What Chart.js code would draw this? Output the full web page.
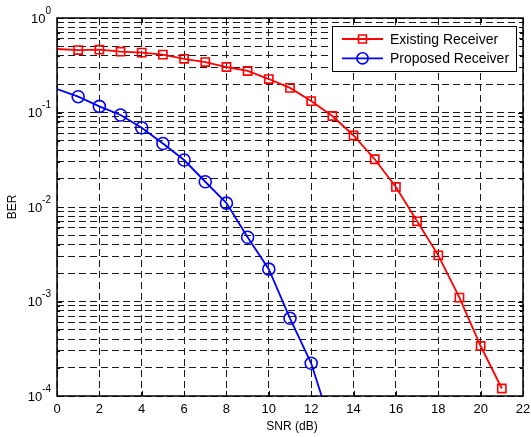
<!DOCTYPE html>
<html><head><meta charset="utf-8">
<script src="https://cdn.jsdelivr.net/npm/chart.js@4.4.0/dist/chart.umd.min.js"></script>
<style>html,body{margin:0;padding:0;background:#fff;} canvas{display:block;}</style>
</head><body>
<canvas id="c" width="531" height="437"></canvas>
<script>
// ---- data ----
const snrExisting = [0,1,2,3,4,5,6,7,8,9,10,11,12,13,14,15,16,17,18,19,20,21];
const berExisting = [0.47,0.458,0.462,0.44,0.43,0.41,0.37,0.342,0.303,0.275,0.226,0.182,0.132,0.0918,0.0571,0.032,0.0163,0.00706,0.00308,0.0011,0.000338,0.00012];
const snrProposed = [0,1,2,3,4,5,6,7,8,9,10,11,12,13];
const berProposed = [0.177,0.147,0.116,0.094,0.069,0.047,0.0314,0.0185,0.011,0.00478,0.0022,0.000664,0.000222,0.000044];
const seriesNames = ['Existing Receiver','Proposed Receiver'];
const xTickValues = [0,2,4,6,8,10,12,14,16,18,20,22];
const xTickLabels = ['0','2','4','6','8','10','12','14','16','18','20','22'];
const yMajorExponents = [0,-1,-2,-3,-4];
const yMinorMultipliers = [2,3,4,5,6,7,8,9];
const xTitle = 'SNR (dB)';
const yTitle = 'BER';

// tick values for log axis (major decades + minor multiples)
const yTickValues = [];
yMajorExponents.forEach(e => {
  yTickValues.push({v: Math.pow(10, e), major: true, e: e});
  if (e < 0) yMinorMultipliers.forEach(m => yTickValues.push({v: m * Math.pow(10, e), major: false}));
});

const FONT = '"Liberation Sans", Arial, Helvetica, sans-serif';

const matlabPlugin = {
  id: 'matlab',
  afterDraw(chart) {
    const ctx = chart.ctx;
    const a = chart.chartArea;
    const xs = chart.scales.x, ys = chart.scales.y;
    ctx.save();
    // inward ticks
    ctx.strokeStyle = '#000';
    ctx.lineWidth = 1;
    yTickValues.forEach(t => {
      const py = Math.round(ys.getPixelForValue(t.v)) + 0.5;
      const len = t.major ? 5 : 3;
      ctx.beginPath();
      ctx.moveTo(a.left, py); ctx.lineTo(a.left + len, py);
      ctx.moveTo(a.right, py); ctx.lineTo(a.right - len, py);
      ctx.stroke();
    });
    xTickValues.forEach(v => {
      const px = Math.round(xs.getPixelForValue(v)) + 0.5;
      ctx.beginPath();
      ctx.moveTo(px, a.bottom); ctx.lineTo(px, a.bottom - 5);
      ctx.moveTo(px, a.top); ctx.lineTo(px, a.top + 5);
      ctx.stroke();
    });
    // box
    ctx.lineWidth = 1.5;
    ctx.strokeRect(a.left, a.top, a.right - a.left, a.bottom - a.top);

    // x tick labels
    ctx.fillStyle = '#000';
    ctx.font = '13px ' + FONT;
    ctx.textAlign = 'center';
    ctx.textBaseline = 'alphabetic';
    xTickValues.forEach((v, i) => {
      ctx.fillText(xTickLabels[i], xs.getPixelForValue(v), 412.5);
    });
    // y tick labels with superscript exponent
    yTickValues.filter(t => t.major).forEach(t => {
      const py = ys.getPixelForValue(t.v);
      const exp = String(t.e);
      ctx.font = '10px ' + FONT;
      const we = ctx.measureText(exp).width;
      ctx.font = '13px ' + FONT;
      const wb = ctx.measureText('10').width;
      const right = 51;
      ctx.textAlign = 'left';
      ctx.fillText('10', right - we - wb, py + 4.7);
      ctx.font = '10px ' + FONT;
      ctx.fillText(exp, right - we, py - 4.3);
    });
    // axis titles
    ctx.font = '12px ' + FONT;
    ctx.textAlign = 'center';
    ctx.fillText(xTitle, (a.left + a.right) / 2 + 2, 429.5);
    ctx.save();
    ctx.translate(15.5, (a.top + a.bottom) / 2);
    ctx.rotate(-Math.PI / 2);
    ctx.fillText(yTitle, 0, 0);
    ctx.restore();

    // legend
    const lx = 332.5, ly = 26.5, lw = 184, lh = 45;
    ctx.fillStyle = '#fff';
    ctx.fillRect(lx, ly, lw, lh);
    ctx.strokeStyle = '#000';
    ctx.lineWidth = 1;
    ctx.strokeRect(lx, ly, lw, lh);
    chart.data.datasets.forEach((ds, i) => {
      const ry = 39 + i * 19.3;
      ctx.strokeStyle = ds.borderColor;
      ctx.lineWidth = ds.borderWidth;
      ctx.beginPath();
      ctx.moveTo(342, ry); ctx.lineTo(383, ry);
      ctx.stroke();
      ctx.fillStyle = 'rgba(0,0,0,0)';
      ctx.lineWidth = ds.pointBorderWidth;
      Chart.helpers.drawPoint(ctx, {
        pointStyle: ds.pointStyle,
        radius: ds.legendRadius,
        borderWidth: ds.pointBorderWidth,
        rotation: 0
      }, 362.5, ry);
      ctx.fillStyle = '#000';
      ctx.font = '14px ' + FONT;
      ctx.textAlign = 'left';
      ctx.fillText(ds.label, 390, ry + 4.8);
    });
    ctx.restore();
  }
};

const redRadius = snrExisting.map(v => v === 0 ? 0 : 5.8);
const blueRadius = snrProposed.map(v => (v === 0 || v > 12) ? 0 : 6);

new Chart(document.getElementById('c'), {
  type: 'line',
  data: {
    datasets: [
      {
        label: seriesNames[0],
        data: snrExisting.map((x, i) => ({x: x, y: berExisting[i]})),
        borderColor: '#ff0000',
        backgroundColor: 'rgba(0,0,0,0)',
        borderWidth: 1.8,
        pointStyle: 'rect',
        pointRadius: redRadius,
        legendRadius: 5.6,
        pointBorderWidth: 1.6,
        pointBorderColor: '#ff0000',
        pointBackgroundColor: 'rgba(0,0,0,0)',
        tension: 0,
        fill: false
      },
      {
        label: seriesNames[1],
        data: snrProposed.map((x, i) => ({x: x, y: berProposed[i]})),
        borderColor: '#0000ff',
        backgroundColor: 'rgba(0,0,0,0)',
        borderWidth: 1.8,
        pointStyle: 'circle',
        pointRadius: blueRadius,
        legendRadius: 5.6,
        pointBorderWidth: 1.6,
        pointBorderColor: '#0000ff',
        pointBackgroundColor: 'rgba(0,0,0,0)',
        tension: 0,
        fill: false
      }
    ]
  },
  options: {
    responsive: false,
    animation: false,
    events: [],
    layout: {padding: {left: 0, right: 8, top: 18, bottom: 0}},
    plugins: {legend: {display: false}, tooltip: {enabled: false}},
    scales: {
      x: {
        type: 'linear', min: 0, max: 22,
        afterBuildTicks: s => { s.ticks = xTickValues.map(v => ({value: v})); },
        afterFit: s => { s.height = 41; },
        ticks: {display: false},
        grid: {color: '#1a1a1a', lineWidth: 1, drawTicks: false},
        border: {display: false, dash: [7, 4]}
      },
      y: {
        type: 'logarithmic', min: 1e-4, max: 1,
        afterBuildTicks: s => { s.ticks = yTickValues.map(t => ({value: t.v, major: t.major})); },
        afterFit: s => { s.width = 57; },
        ticks: {display: false},
        grid: {color: '#1a1a1a', lineWidth: 1, drawTicks: false},
        border: {display: false, dash: [7, 4]}
      }
    }
  },
  plugins: [matlabPlugin]
});
</script>
</body></html>
